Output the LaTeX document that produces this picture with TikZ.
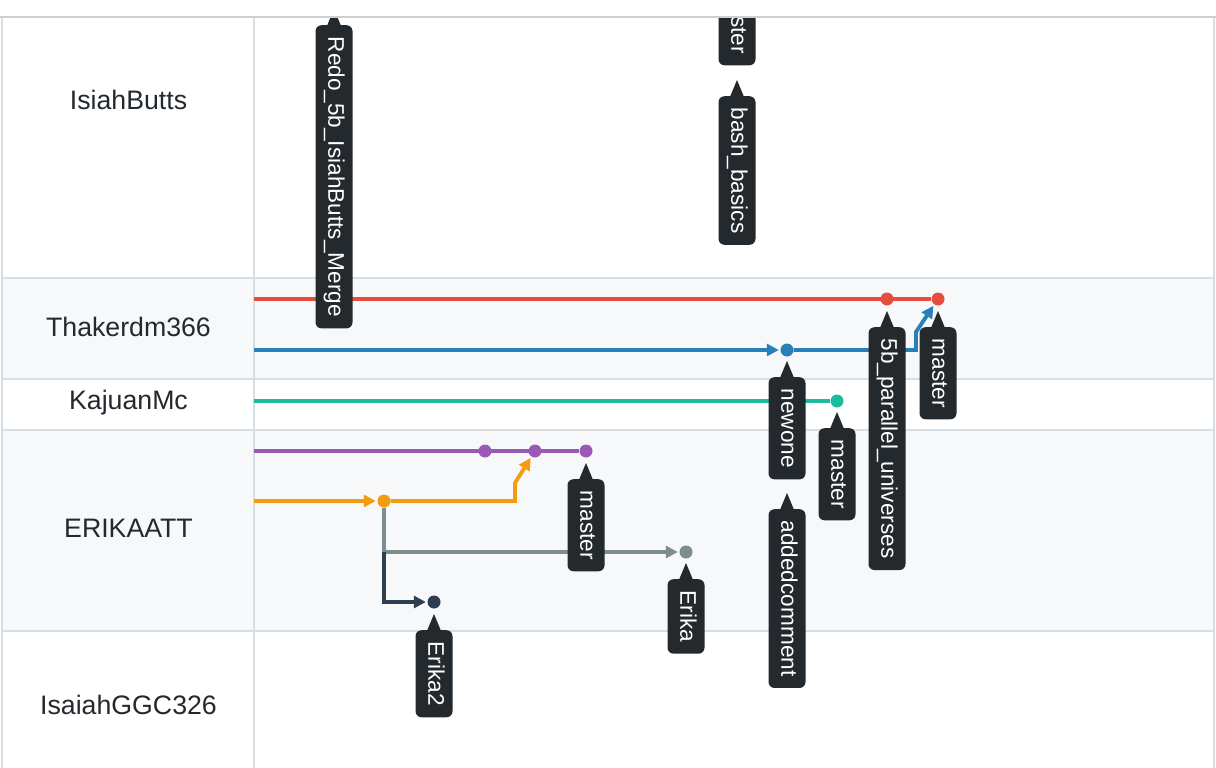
\documentclass[tikz,border=0pt]{standalone}
\usepackage{fontspec}
\setmainfont{Liberation Sans}
\usetikzlibrary{arrows.meta,calc}

\definecolor{rowgray}{HTML}{F6F8FA}
\definecolor{gridc}{HTML}{D5DDE5}
\definecolor{topc}{HTML}{CFCFCF}
\definecolor{tagc}{HTML}{24292E}
\definecolor{labc}{HTML}{24292E}
\definecolor{cred}{HTML}{E74C3C}
\definecolor{cblue}{HTML}{2980B9}
\definecolor{cteal}{HTML}{1ABC9C}
\definecolor{cpurple}{HTML}{9B59B6}
\definecolor{corange}{HTML}{F39C12}
\definecolor{cgray}{HTML}{7F8C8D}
\definecolor{cnavy}{HTML}{2C3E50}

\pgfdeclarelayer{back}
\pgfdeclarelayer{edges}
\pgfsetlayers{back,edges,main}

\tikzset{
  branch/.style={line width=3.8pt},
  merge/.style={branch, -{Triangle[length=12pt,width=12pt]}, shorten >=1.5pt},
  commit/.style={circle, fill=#1, minimum size=13pt, inner sep=0pt},
  tagbox/.style={fill=tagc, text=white, rounded corners=6pt, rotate=-90,
    anchor=west, minimum height=37pt, inner xsep=11.5pt, inner ysep=0pt,
    text height=16pt, text depth=4.5pt,
    font=\fontsize{22.6}{22.6}\selectfont},
  rowlabel/.style={text=labc, font=\fontsize{26.7}{30}\selectfont},
  grid/.style={draw=gridc, line width=2pt},
}

% branch tag: rotated dark box with a pointer on top
\newcommand\reftag[4]{%
  \node[tagbox] (#1) at (#2,#3) {#4};
  \fill[tagc] ($(#1.west)+(-7.5,2)$) -- ($(#1.west)+(0,-16)$)
    -- ($(#1.west)+(7.5,2)$) -- cycle;
}

\begin{document}
\begin{tikzpicture}[x=1pt,y=-1pt]
\useasboundingbox (0,0) rectangle (1216,768);

% table background and grid
\begin{pgfonlayer}{back}
  \fill[white] (0,0) rectangle (1216,768);
  \fill[rowgray] (2,278) rectangle (1214,379);
  \fill[rowgray] (2,430) rectangle (1214,631);
  \draw[grid] (2,17) -- (2,768);
  \draw[grid] (254,17) -- (254,768);
  \draw[grid] (1214,17) -- (1214,768);
  \draw[grid] (2,278) -- (1214,278);
  \draw[grid] (2,379) -- (1214,379);
  \draw[grid] (2,430) -- (1214,430);
  \draw[grid] (2,631) -- (1214,631);
\end{pgfonlayer}

% author names
\node[rowlabel] (lab1) at (128.5,100) {IsiahButts};
\node[rowlabel] (lab2) at (128.5,327) {Thakerdm366};
\node[rowlabel] (lab3) at (128.5,403) {KajuanMc};
\node[rowlabel] (lab4) at (128.5,528) {ERIKAATT};
\node[rowlabel] (lab5) at (128.5,705) {IsaiahGGC326};

% branch start points and bends
\coordinate (sR) at (254,299);
\coordinate (sB) at (254,350);
\coordinate (sT) at (254,401);
\coordinate (sP) at (254,451);
\coordinate (sO) at (254,501);
\coordinate (bk1) at (916,350);
\coordinate (bk2) at (916,332);
\coordinate (ok1) at (515,501);
\coordinate (ok2) at (515,483);
\coordinate (gs) at (384,552);

% commits
\node[commit=cred] (r1) at (887,299) {};
\node[commit=cred] (r2) at (938,299) {};
\node[commit=cblue] (b1) at (787,350) {};
\node[commit=cteal] (t1) at (837,401) {};
\node[commit=cpurple] (p1) at (485,451) {};
\node[commit=cpurple] (p2) at (535,451) {};
\node[commit=cpurple] (p3) at (586,451) {};
\node[commit=corange] (o1) at (384,501) {};
\node[commit=cgray] (g1) at (686,552) {};
\node[commit=cnavy] (n1) at (434,602) {};

% branch lines
\begin{pgfonlayer}{edges}
  \draw[branch, cred] (sR) -- (r2);
  \draw[merge, cblue] (sB) -- (b1);
  \draw[merge, cblue] (b1) -- (bk1) -- (bk2) -- (r2);
  \draw[branch, cteal] (sT) -- (t1);
  \draw[branch, cpurple] (sP) -- (p3);
  \draw[merge, corange] (sO) -- (o1);
  \draw[merge, corange] (o1) -- (ok1) -- (ok2) -- (p2);
  \draw[merge, cgray] (o1) |- (g1);
  \draw[merge, cnavy] (gs) |- (n1);
\end{pgfonlayer}

% tags
\reftag{tRedo}{334}{25}{Redo\_5b\_IsiahButts\_Merge}
\reftag{tMasterTop}{737}{-27}{master}
\reftag{tBash}{737}{96}{bash\_basics}
\reftag{tNewone}{787}{377}{newone}
\reftag{tAdded}{787}{509}{addedcomment}
\reftag{tMasterK}{837}{428}{master}
\reftag{tParallel}{887}{327}{5b\_parallel\_universes}
\reftag{tMasterT}{938}{327}{master}
\reftag{tMasterE}{586}{479}{master}
\reftag{tErika}{686}{579}{Erika}
\reftag{tErika2}{434}{630}{Erika2}

% top edge of the view
\fill[white] (0,0) rectangle (1216,16.5);
\draw[topc, line width=1.5pt] (0,17) -- (1216,17);
\end{tikzpicture}
\end{document}
